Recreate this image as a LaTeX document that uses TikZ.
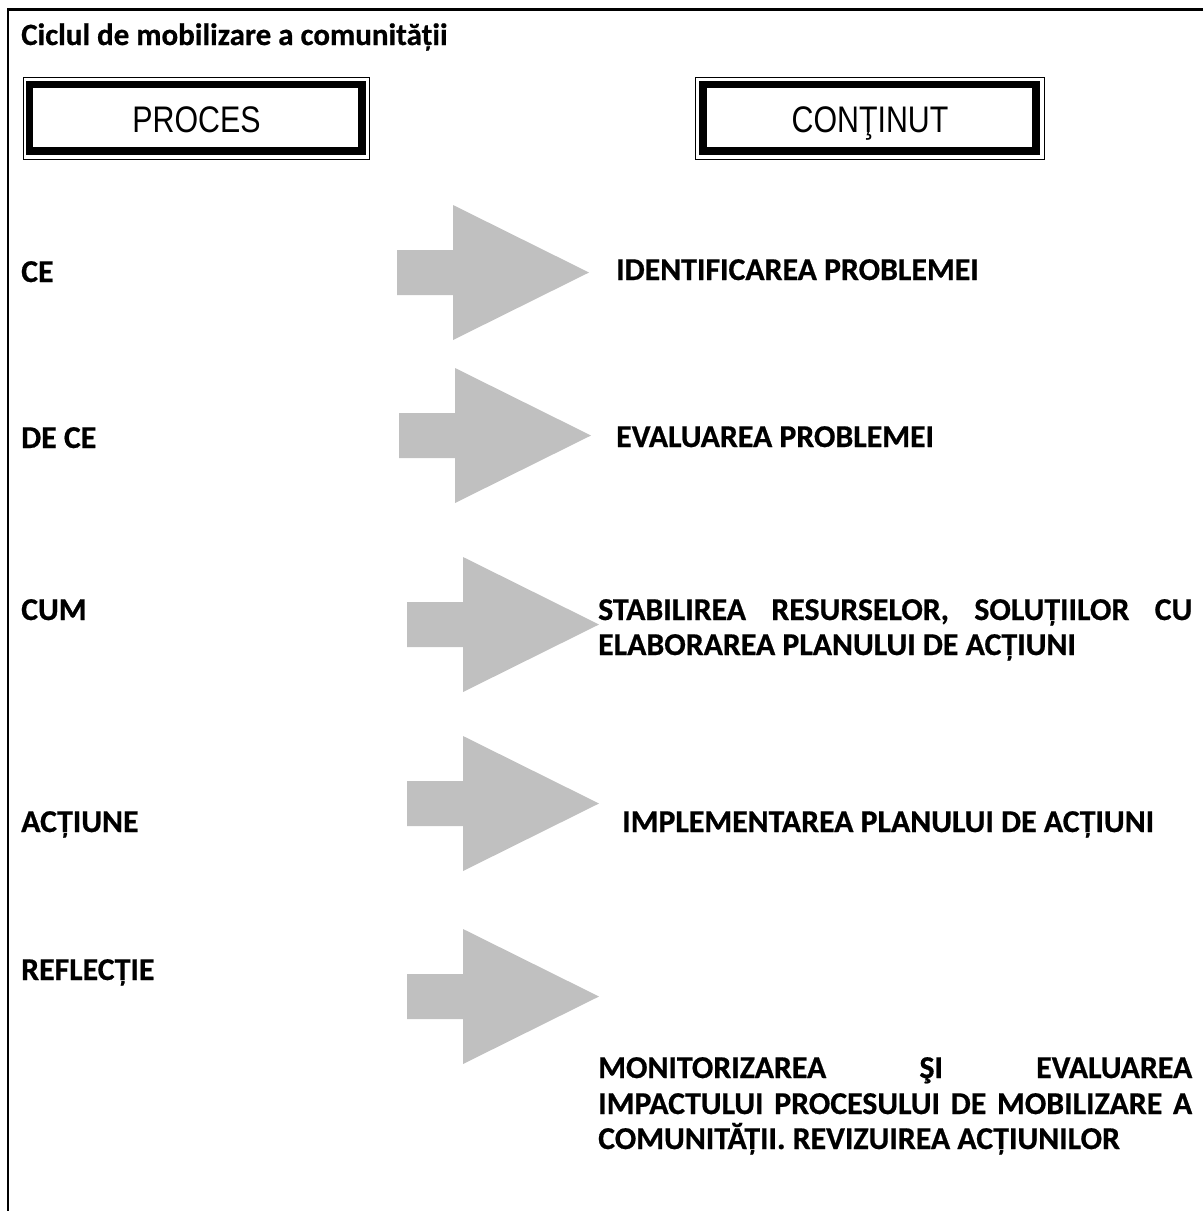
\documentclass[tikz,border=0pt]{standalone}
\usepackage{fontspec}
\usepackage{graphicx}
\setmainfont{Carlito}[BoldFeatures={FakeBold=0.6}]
\newfontfamily\arialf{Liberation Sans}
\definecolor{arrowgray}{HTML}{C0C0C0}
\newcommand\bigarr[3]{%
  \fill[bigarrow] (#1,#3-22.5) -- (#2,#3-22.5) -- (#2,#3-67.5) -- (#2+136,#3)
    -- (#2,#3+67.5) -- (#2,#3+22.5) -- (#1,#3+22.5) -- cycle;}
\begin{document}
\begin{tikzpicture}[x=1pt,y=-1pt,
  lbl/.style={anchor=base west, inner sep=0pt, font=\fontsize{31.8}{36}\selectfont\bfseries},
  titletxt/.style={anchor=base west, inner sep=0pt, font=\fontsize{31}{36}\selectfont\bfseries},
  boxtxt/.style={anchor=base, inner sep=0pt, font=\arialf\fontsize{37}{42}\selectfont},
  bigarrow/.style={fill=arrowgray, draw=none},
  thinframe/.style={draw, line width=1.2pt},
  thickframe/.style={draw, line width=7.5pt}]
\useasboundingbox (0,0) rectangle (1203,1211);
\fill[white] (0,0) rectangle (1203,1211);
% outer frame (open to right and bottom)
\draw[line width=2.5pt] (1203,9.5) -- (8,9.5) -- (8,1211);
% title
\node[titletxt] (title) at (21,45) {Ciclul de mobilizare a comunității};
% header boxes
\draw[thinframe] (23.5,77.5) rectangle (369.5,159.5);
\draw[thickframe] (29.5,84.5) rectangle (362,151);
\node[boxtxt] (proc) at (196.5,132) {\scalebox{0.82}[1]{PROCES}};
\draw[thinframe] (695.5,77.5) rectangle (1044.5,159.5);
\draw[thickframe] (703,84.5) rectangle (1036,151);
\node[boxtxt] (cont) at (870,132) {\scalebox{0.82}[1]{CONŢINUT}};
% arrows
\bigarr{397}{453}{272.5}
\bigarr{399}{455}{435.5}
\bigarr{407}{463}{624.5}
\bigarr{407}{463}{803.5}
\bigarr{407}{463}{996.5}
% left labels
\node[lbl] (l1) at (21,282) {CE};
\node[lbl] (l2) at (21,448) {DE CE};
\node[lbl] (l3) at (21,620) {CUM};
\node[lbl] (l4) at (21,832) {ACȚIUNE};
\node[lbl] (l5) at (21,980) {REFLECȚIE};
% right texts
\node[lbl] (r1) at (616,280) {IDENTIFICAREA PROBLEMEI};
\node[lbl] (r2) at (616,447) {EVALUAREA PROBLEMEI};
\node[lbl] (r3a) at (598,620) {\makebox[594pt][s]{STABILIREA RESURSELOR, SOLUȚIILOR CU}};
\node[lbl] (r3b) at (598,655) {ELABORAREA PLANULUI DE ACȚIUNI};
\node[lbl] (r4) at (622,832) {IMPLEMENTAREA PLANULUI DE ACȚIUNI};
\node[lbl] (r5a) at (598,1078) {\makebox[594pt][s]{MONITORIZAREA ŞI EVALUAREA}};
\node[lbl] (r5b) at (598,1114) {\makebox[594pt][s]{IMPACTULUI PROCESULUI DE MOBILIZARE A}};
\node[lbl] (r5c) at (598,1149) {COMUNITĂȚII. REVIZUIREA ACȚIUNILOR};
\end{tikzpicture}
\end{document}
